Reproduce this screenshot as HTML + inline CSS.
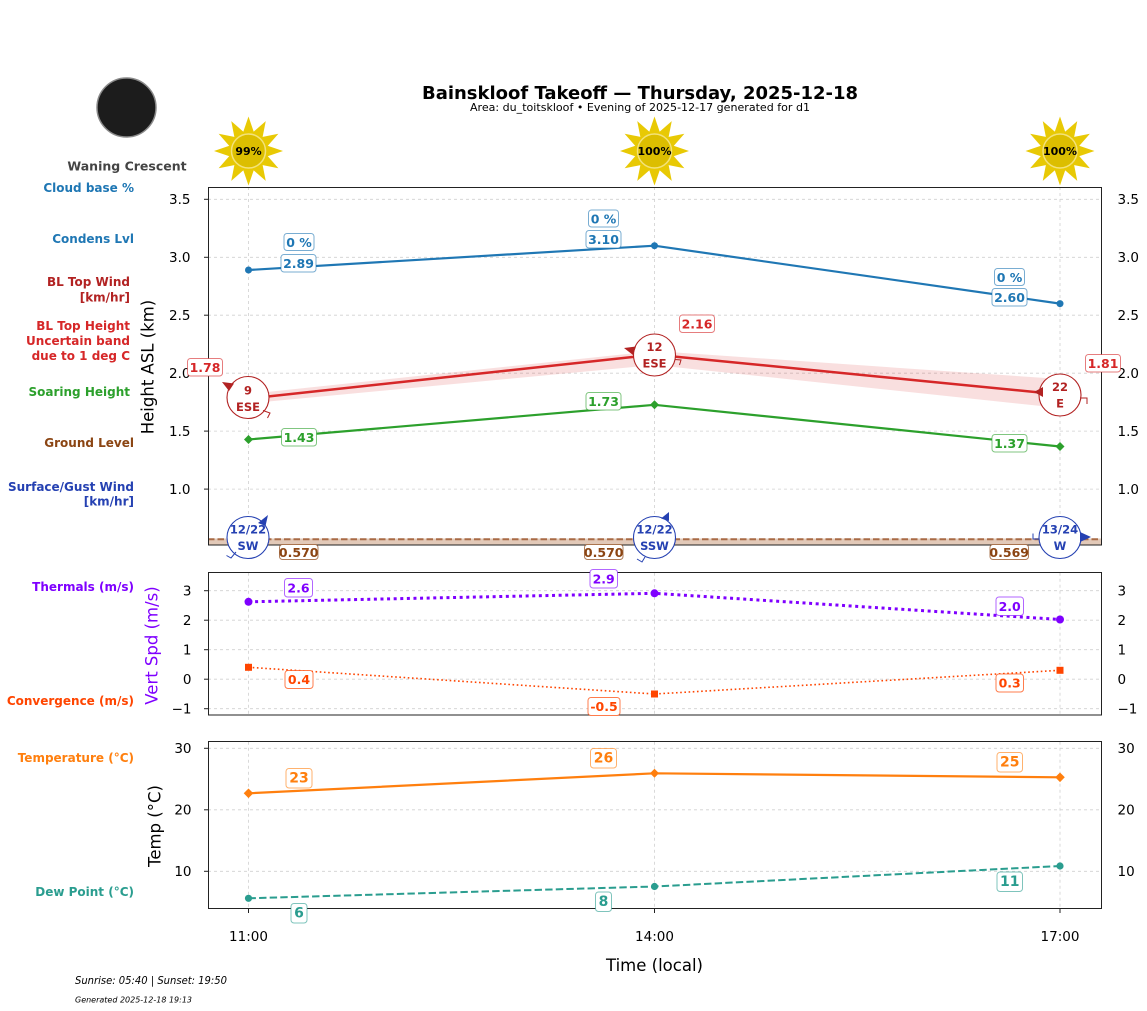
<!DOCTYPE html>
<html><head><meta charset="utf-8"><style>
html,body{margin:0;padding:0;background:#fff;}
svg{display:block;font-family:"DejaVu Sans","Liberation Sans",sans-serif;}
.lb{font-weight:bold;font-size:12px;text-anchor:end;dominant-baseline:central;}
.tk{font-size:13.5px;dominant-baseline:central;fill:#000;}
.bx{font-weight:bold;font-size:12.5px;text-anchor:middle;dominant-baseline:central;}
.g{stroke:#d0d0d0;stroke-width:0.8;stroke-dasharray:3,3;fill:none;}
</style></head><body>
<svg width="1147" height="1011" viewBox="0 0 1147 1011" xmlns="http://www.w3.org/2000/svg">
<rect width="1147" height="1011" fill="#fff"/>

<!-- Title -->
<text x="640" y="99" text-anchor="middle" font-weight="bold" font-size="18" textLength="436" lengthAdjust="spacingAndGlyphs">Bainskloof Takeoff — Thursday, 2025-12-18</text>
<text x="640" y="111" text-anchor="middle" font-size="11" textLength="340" lengthAdjust="spacingAndGlyphs">Area: du_toitskloof • Evening of 2025-12-17 generated for d1</text>

<!-- Moon -->
<circle cx="126.5" cy="107.5" r="29.5" fill="#1c1c1c" stroke="#8a8a8a" stroke-width="1.5"/>
<text x="127" y="166" text-anchor="middle" dominant-baseline="central" font-weight="bold" font-size="12.5" fill="#444">Waning Crescent</text>

<!-- Suns -->
<defs>
<g id="rays">
<polygon points="0,-34.5 -7,-14 7,-14" transform="rotate(0)"/>
<polygon points="0,-34.5 -7,-14 7,-14" transform="rotate(30)"/>
<polygon points="0,-34.5 -7,-14 7,-14" transform="rotate(60)"/>
<polygon points="0,-34.5 -7,-14 7,-14" transform="rotate(90)"/>
<polygon points="0,-34.5 -7,-14 7,-14" transform="rotate(120)"/>
<polygon points="0,-34.5 -7,-14 7,-14" transform="rotate(150)"/>
<polygon points="0,-34.5 -7,-14 7,-14" transform="rotate(180)"/>
<polygon points="0,-34.5 -7,-14 7,-14" transform="rotate(210)"/>
<polygon points="0,-34.5 -7,-14 7,-14" transform="rotate(240)"/>
<polygon points="0,-34.5 -7,-14 7,-14" transform="rotate(270)"/>
<polygon points="0,-34.5 -7,-14 7,-14" transform="rotate(300)"/>
<polygon points="0,-34.5 -7,-14 7,-14" transform="rotate(330)"/>
</g>
</defs>
<g transform="translate(248.5,151)" fill="#e8c904"><use href="#rays"/><circle r="17" fill="#dcbe00" stroke="#f3e27a" stroke-width="1.5"/></g>
<g transform="translate(654.5,151)" fill="#e8c904"><use href="#rays"/><circle r="17" fill="#dcbe00" stroke="#f3e27a" stroke-width="1.5"/></g>
<g transform="translate(1060,151)" fill="#e8c904"><use href="#rays"/><circle r="17" fill="#dcbe00" stroke="#f3e27a" stroke-width="1.5"/></g>
<text x="248.5" y="151.5" text-anchor="middle" dominant-baseline="central" font-weight="bold" font-size="11">99%</text>
<text x="654.5" y="151.5" text-anchor="middle" dominant-baseline="central" font-weight="bold" font-size="11">100%</text>
<text x="1060" y="151.5" text-anchor="middle" dominant-baseline="central" font-weight="bold" font-size="11">100%</text>

<!-- Left labels -->
<text class="lb" x="134" y="188" fill="#1f77b4">Cloud base %</text>
<text class="lb" x="134" y="239" fill="#1f77b4">Condens Lvl</text>
<text class="lb" x="130" y="282" fill="#b22222">BL Top Wind</text>
<text class="lb" x="130" y="297.5" fill="#b22222">[km/hr]</text>
<text class="lb" x="130" y="326" fill="#d62728">BL Top Height</text>
<text class="lb" x="130" y="341" fill="#d62728">Uncertain band</text>
<text class="lb" x="130" y="356" fill="#d62728">due to 1 deg C</text>
<text class="lb" x="130" y="392" fill="#2ca02c">Soaring Height</text>
<text class="lb" x="134" y="443" fill="#8b4513">Ground Level</text>
<text class="lb" x="134" y="487" fill="#2541b2">Surface/Gust Wind</text>
<text class="lb" x="134" y="501.5" fill="#2541b2">[km/hr]</text>
<text class="lb" x="134" y="587" fill="#7f00ff">Thermals (m/s)</text>
<text class="lb" x="134" y="701" fill="#ff4500">Convergence (m/s)</text>
<text class="lb" x="134" y="758" fill="#ff7f0e">Temperature (°C)</text>
<text class="lb" x="134" y="892" fill="#2a9d8f">Dew Point (°C)</text>

<!-- Y axis titles -->
<text transform="translate(148,367) rotate(-90)" text-anchor="middle" dominant-baseline="central" font-size="16.5">Height ASL (km)</text>
<text transform="translate(152,645.5) rotate(-90)" text-anchor="middle" dominant-baseline="central" font-size="16.5" fill="#7f00ff">Vert Spd (m/s)</text>
<text transform="translate(155,826) rotate(-90)" text-anchor="middle" dominant-baseline="central" font-size="16.5">Temp (°C)</text>

<!-- ===== MAIN PANEL ===== -->
<g class="g">
<line x1="208" x2="1101" y1="199.3" y2="199.3"/>
<line x1="208" x2="1101" y1="257.3" y2="257.3"/>
<line x1="208" x2="1101" y1="315.2" y2="315.2"/>
<line x1="208" x2="1101" y1="373.2" y2="373.2"/>
<line x1="208" x2="1101" y1="431.1" y2="431.1"/>
<line x1="208" x2="1101" y1="489.1" y2="489.1"/>
<line x1="248.5" x2="248.5" y1="187" y2="545"/>
<line x1="654.5" x2="654.5" y1="187" y2="545"/>
<line x1="1060" x2="1060" y1="187" y2="545"/>
</g>
<!-- ground band -->
<rect x="208" y="538.5" width="893" height="6.5" fill="#e2c9b8"/>
<line x1="208" x2="1101" y1="539.3" y2="539.3" stroke="#a86a45" stroke-width="2" stroke-dasharray="6.5,3"/>

<!-- red uncertainty band -->
<polygon points="248,394 654.5,351 1060,379 1060,408 654.5,365 248,403.5" fill="#d62728" fill-opacity="0.15"/>
<!-- lines -->
<polyline points="248.5,270 654.5,245.7 1060,303.6" fill="none" stroke="#1f77b4" stroke-width="2.2"/>
<circle cx="248.5" cy="270" r="3.5" fill="#1f77b4"/>
<circle cx="654.5" cy="245.7" r="3.5" fill="#1f77b4"/>
<circle cx="1060" cy="303.6" r="3.5" fill="#1f77b4"/>
<polyline points="248.5,398.6 654.5,354.6 1060,394.5" fill="none" stroke="#d62728" stroke-width="2.5"/>
<polyline points="248.5,439.5 654.5,404.8 1060,446.5" fill="none" stroke="#2ca02c" stroke-width="2.2"/>
<polygon points="248.5,435 253,439.5 248.5,444 244,439.5" fill="#2ca02c"/>
<polygon points="654.5,400.3 659,404.8 654.5,409.3 650,404.8" fill="#2ca02c"/>
<polygon points="1060,442 1064.5,446.5 1060,451 1055.5,446.5" fill="#2ca02c"/>

<!-- frame -->
<rect x="208.5" y="187.5" width="893" height="357.5" fill="none" stroke="#222" stroke-width="1"/>
<g stroke="#222" stroke-width="1">
<line x1="204" x2="208" y1="199.3" y2="199.3"/><line x1="204" x2="208" y1="257.3" y2="257.3"/>
<line x1="204" x2="208" y1="315.2" y2="315.2"/><line x1="204" x2="208" y1="373.2" y2="373.2"/>
<line x1="204" x2="208" y1="431.1" y2="431.1"/><line x1="204" x2="208" y1="489.1" y2="489.1"/>
</g>
<g class="tk">
<text x="190.5" y="200" text-anchor="end">3.5</text><text x="190.5" y="258" text-anchor="end">3.0</text>
<text x="190.5" y="316" text-anchor="end">2.5</text><text x="190.5" y="374" text-anchor="end">2.0</text>
<text x="190.5" y="432" text-anchor="end">1.5</text><text x="190.5" y="490" text-anchor="end">1.0</text>
</g>
<g class="tk">
<text x="1117.5" y="200">3.5</text><text x="1117.5" y="258">3.0</text>
<text x="1117.5" y="316">2.5</text><text x="1117.5" y="374">2.0</text>
<text x="1117.5" y="432">1.5</text><text x="1117.5" y="490">1.0</text>
</g>

<!-- red wind circles -->
<g fill="#fff" stroke="#b22222" stroke-width="1.1">
<circle cx="248" cy="397.5" r="21"/>
<circle cx="654.5" cy="355" r="21"/>
<circle cx="1060" cy="395" r="21"/>
</g>
<g fill="#b22222">
<polygon points="222,382 234,383.5 229,391"/>
<polygon points="624,348 636,346.5 633,355"/>
<polygon points="1034,392 1043,387 1043,397"/>
</g>
<g fill="none" stroke="#b22222" stroke-width="1">
<polyline points="263,410.5 270,413 267.5,418"/>
<polyline points="675,359.5 681,360 679.5,365"/>
<polyline points="1080,398 1087,398 1087,404"/>
</g>
<g font-weight="bold" font-size="11.5" fill="#b22222" text-anchor="middle" dominant-baseline="central">
<text x="248" y="390.5">9</text><text x="248" y="407">ESE</text>
<text x="654.5" y="347">12</text><text x="654.5" y="363.5">ESE</text>
<text x="1060" y="387">22</text><text x="1060" y="403.5">E</text>
</g>

<!-- blue surface wind circles -->
<g fill="#fff" stroke="#2541b2" stroke-width="1.1">
<circle cx="248" cy="537.5" r="21"/>
<circle cx="654.5" cy="537.5" r="21"/>
<circle cx="1060" cy="537.5" r="21"/>
</g>
<g fill="#2541b2">
<polygon points="258,523 268,515 265.5,526"/>
<polygon points="661,518.5 669,512 669,521"/>
<polygon points="1080,532 1091,537 1080,542"/>
</g>
<g fill="none" stroke="#2541b2" stroke-width="1">
<polyline points="226.5,555.5 231,558 236,552"/>
<polyline points="637,559 642,562 645,557"/>
<polyline points="1033,533.5 1033,539 1039,539"/>
</g>
<g font-weight="bold" font-size="11.5" fill="#2541b2" text-anchor="middle" dominant-baseline="central">
<text x="248" y="529.5">12/22</text><text x="248" y="546">SW</text>
<text x="654.5" y="529.5">12/22</text><text x="654.5" y="546">SSW</text>
<text x="1060" y="529.5">13/24</text><text x="1060" y="546">W</text>
</g>

<!-- main value boxes -->
<g fill="#fff" stroke-width="1">
<rect x="284" y="233.5" width="30" height="17" rx="3" stroke="#1f77b4" stroke-opacity="0.6"/>
<rect x="281" y="254.5" width="35" height="17.5" rx="3" stroke="#1f77b4" stroke-opacity="0.6"/>
<rect x="588.5" y="210" width="30" height="17" rx="3" stroke="#1f77b4" stroke-opacity="0.6"/>
<rect x="586" y="230.5" width="35" height="17.5" rx="3" stroke="#1f77b4" stroke-opacity="0.6"/>
<rect x="994.5" y="268.5" width="30" height="17" rx="3" stroke="#1f77b4" stroke-opacity="0.6"/>
<rect x="992" y="288.5" width="35" height="17.5" rx="3" stroke="#1f77b4" stroke-opacity="0.6"/>
<rect x="187.5" y="358.5" width="35" height="17.5" rx="3" stroke="#d62728" stroke-opacity="0.6"/>
<rect x="679.5" y="315" width="35" height="17.5" rx="3" stroke="#d62728" stroke-opacity="0.6"/>
<rect x="1085.5" y="354.5" width="35" height="17.5" rx="3" stroke="#d62728" stroke-opacity="0.6"/>
<rect x="281.5" y="428.5" width="35" height="17.5" rx="3" stroke="#2ca02c" stroke-opacity="0.6"/>
<rect x="586" y="392.5" width="35" height="17.5" rx="3" stroke="#2ca02c" stroke-opacity="0.6"/>
<rect x="992" y="434.5" width="35" height="17.5" rx="3" stroke="#2ca02c" stroke-opacity="0.6"/>
<rect x="279.5" y="544.5" width="38.5" height="15" rx="3" stroke="#8b4513" stroke-opacity="0.7"/>
<rect x="584.5" y="544.5" width="38.5" height="15" rx="3" stroke="#8b4513" stroke-opacity="0.7"/>
<rect x="990" y="544.5" width="38.5" height="15" rx="3" stroke="#8b4513" stroke-opacity="0.7"/>
</g>
<g>
<text class="bx" x="299" y="242.5" fill="#1f77b4">0 %</text>
<text class="bx" x="298.5" y="263.5" fill="#1f77b4">2.89</text>
<text class="bx" x="603.5" y="219" fill="#1f77b4">0 %</text>
<text class="bx" x="603.5" y="239.5" fill="#1f77b4">3.10</text>
<text class="bx" x="1009.5" y="277.5" fill="#1f77b4">0 %</text>
<text class="bx" x="1009.5" y="297.5" fill="#1f77b4">2.60</text>
<text class="bx" x="205" y="367.5" fill="#d62728">1.78</text>
<text class="bx" x="697" y="324" fill="#d62728">2.16</text>
<text class="bx" x="1103" y="363.5" fill="#d62728">1.81</text>
<text class="bx" x="299" y="437.5" fill="#2ca02c">1.43</text>
<text class="bx" x="603.5" y="401.5" fill="#2ca02c">1.73</text>
<text class="bx" x="1009.5" y="443.5" fill="#2ca02c">1.37</text>
<text class="bx" x="298.7" y="552.3" fill="#8b4513" font-size="10.5">0.570</text>
<text class="bx" x="603.7" y="552.3" fill="#8b4513" font-size="10.5">0.570</text>
<text class="bx" x="1009.2" y="552.3" fill="#8b4513" font-size="10.5">0.569</text>
</g>

<!-- ===== VERT PANEL ===== -->
<g class="g">
<line x1="208" x2="1101" y1="590.7" y2="590.7"/>
<line x1="208" x2="1101" y1="620.2" y2="620.2"/>
<line x1="208" x2="1101" y1="649.7" y2="649.7"/>
<line x1="208" x2="1101" y1="679.2" y2="679.2"/>
<line x1="208" x2="1101" y1="708.7" y2="708.7"/>
<line x1="248.5" x2="248.5" y1="572.7" y2="715"/>
<line x1="654.5" x2="654.5" y1="572.7" y2="715"/>
<line x1="1060" x2="1060" y1="572.7" y2="715"/>
</g>
<polyline points="248.5,601.8 654.5,593.3 1060,619.5" fill="none" stroke="#7f00ff" stroke-width="3" stroke-dasharray="3,3.6"/>
<circle cx="248.5" cy="601.8" r="4" fill="#7f00ff"/>
<circle cx="654.5" cy="593.3" r="4" fill="#7f00ff"/>
<circle cx="1060" cy="619.5" r="4" fill="#7f00ff"/>
<polyline points="248.5,667.3 654.5,694 1060,670.3" fill="none" stroke="#ff4500" stroke-width="1.6" stroke-dasharray="1.6,2.6"/>
<rect x="245" y="663.8" width="7" height="7" fill="#ff4500"/>
<rect x="651" y="690.5" width="7" height="7" fill="#ff4500"/>
<rect x="1056.5" y="666.8" width="7" height="7" fill="#ff4500"/>
<rect x="208.5" y="572.5" width="893" height="142.5" fill="none" stroke="#222" stroke-width="1"/>
<g stroke="#222" stroke-width="1">
<line x1="204" x2="208" y1="590.7" y2="590.7"/><line x1="204" x2="208" y1="620.2" y2="620.2"/>
<line x1="204" x2="208" y1="649.7" y2="649.7"/><line x1="204" x2="208" y1="679.2" y2="679.2"/>
<line x1="204" x2="208" y1="708.7" y2="708.7"/>
</g>
<g class="tk">
<text x="191.5" y="591.5" text-anchor="end">3</text><text x="191.5" y="621" text-anchor="end">2</text>
<text x="191.5" y="650.5" text-anchor="end">1</text><text x="191.5" y="680" text-anchor="end">0</text>
<text x="191.5" y="709.5" text-anchor="end">−1</text>
<text x="1117.5" y="591.5">3</text><text x="1117.5" y="621">2</text>
<text x="1117.5" y="650.5">1</text><text x="1117.5" y="680">0</text>
<text x="1117.5" y="709.5">−1</text>
</g>
<g fill="#fff" stroke-width="1">
<rect x="284.5" y="578.5" width="28" height="18.5" rx="3" stroke="#7f00ff" stroke-opacity="0.6"/>
<rect x="590" y="569.5" width="27.5" height="18.5" rx="3" stroke="#7f00ff" stroke-opacity="0.6"/>
<rect x="996" y="597" width="27.5" height="18.5" rx="3" stroke="#7f00ff" stroke-opacity="0.6"/>
<rect x="285" y="670.5" width="28" height="18" rx="3" stroke="#ff4500" stroke-opacity="0.7"/>
<rect x="588" y="697.5" width="32" height="18" rx="3" stroke="#ff4500" stroke-opacity="0.7"/>
<rect x="996" y="674" width="27.5" height="18" rx="3" stroke="#ff4500" stroke-opacity="0.7"/>
</g>
<text class="bx" x="298.5" y="588" fill="#7f00ff">2.6</text>
<text class="bx" x="603.7" y="579" fill="#7f00ff">2.9</text>
<text class="bx" x="1009.7" y="606.5" fill="#7f00ff">2.0</text>
<text class="bx" x="299" y="679.7" fill="#ff4500">0.4</text>
<text class="bx" x="604" y="706.7" fill="#ff4500">-0.5</text>
<text class="bx" x="1009.7" y="683.2" fill="#ff4500">0.3</text>

<!-- ===== TEMP PANEL ===== -->
<g class="g">
<line x1="208" x2="1101" y1="748.3" y2="748.3"/>
<line x1="208" x2="1101" y1="809.8" y2="809.8"/>
<line x1="208" x2="1101" y1="871.3" y2="871.3"/>
<line x1="248.5" x2="248.5" y1="741.7" y2="908.3"/>
<line x1="654.5" x2="654.5" y1="741.7" y2="908.3"/>
<line x1="1060" x2="1060" y1="741.7" y2="908.3"/>
</g>
<polyline points="248.5,793.3 654.5,773.3 1060,777.3" fill="none" stroke="#ff7f0e" stroke-width="2.2"/>
<polygon points="248.5,788.5 253.3,793.3 248.5,798.1 243.7,793.3" fill="#ff7f0e"/>
<polygon points="654.5,768.8 659,773.3 654.5,777.8 650,773.3" fill="#ff7f0e"/>
<polygon points="1060,772.5 1064.8,777.3 1060,782.1 1055.2,777.3" fill="#ff7f0e"/>
<polyline points="248.5,898.3 654.5,886.5 1060,866" fill="none" stroke="#2a9d8f" stroke-width="2" stroke-dasharray="7.4,3.2"/>
<circle cx="248.5" cy="898.3" r="3.6" fill="#2a9d8f"/>
<circle cx="654.5" cy="886.5" r="3.6" fill="#2a9d8f"/>
<circle cx="1060" cy="866" r="3.6" fill="#2a9d8f"/>
<rect x="208.5" y="741.5" width="893" height="167" fill="none" stroke="#222" stroke-width="1"/>
<g stroke="#222" stroke-width="1">
<line x1="204" x2="208" y1="748.3" y2="748.3"/><line x1="204" x2="208" y1="809.8" y2="809.8"/>
<line x1="204" x2="208" y1="871.3" y2="871.3"/>
<line x1="248.5" x2="248.5" y1="908.5" y2="913"/>
<line x1="654.5" x2="654.5" y1="908.5" y2="913"/>
<line x1="1060" x2="1060" y1="908.5" y2="913"/>
</g>
<g class="tk">
<text x="191.5" y="749" text-anchor="end">30</text><text x="191.5" y="810.5" text-anchor="end">20</text>
<text x="191.5" y="872" text-anchor="end">10</text>
<text x="1117.5" y="749">30</text><text x="1117.5" y="810.5">20</text>
<text x="1117.5" y="872">10</text>
<text x="248.5" y="937" text-anchor="middle">11:00</text>
<text x="654.5" y="937" text-anchor="middle">14:00</text>
<text x="1060" y="937" text-anchor="middle">17:00</text>
</g>
<g fill="#fff" stroke-width="1">
<rect x="286" y="768.5" width="26" height="19.5" rx="3" stroke="#ff7f0e" stroke-opacity="0.6"/>
<rect x="590.5" y="748.5" width="26" height="19.5" rx="3" stroke="#ff7f0e" stroke-opacity="0.6"/>
<rect x="997" y="752.5" width="25.5" height="19.5" rx="3" stroke="#ff7f0e" stroke-opacity="0.6"/>
<rect x="291" y="903.5" width="16" height="19.5" rx="3" stroke="#2a9d8f" stroke-opacity="0.6"/>
<rect x="595.5" y="892" width="16" height="19.5" rx="3" stroke="#2a9d8f" stroke-opacity="0.6"/>
<rect x="997" y="872" width="25.5" height="19.5" rx="3" stroke="#2a9d8f" stroke-opacity="0.6"/>
</g>
<g font-weight="bold" font-size="14" text-anchor="middle" dominant-baseline="central">
<text x="299" y="778.5" fill="#ff7f0e">23</text>
<text x="603.5" y="758.5" fill="#ff7f0e">26</text>
<text x="1009.7" y="762.5" fill="#ff7f0e">25</text>
<text x="299" y="913.5" fill="#2a9d8f">6</text>
<text x="603.5" y="902" fill="#2a9d8f">8</text>
<text x="1009.7" y="882" fill="#2a9d8f">11</text>
</g>

<text x="654.5" y="965.5" text-anchor="middle" dominant-baseline="central" font-size="16.5">Time (local)</text>

<text x="75" y="984" font-style="italic" font-size="10.5" textLength="152" lengthAdjust="spacingAndGlyphs">Sunrise: 05:40 | Sunset: 19:50</text>
<text x="75" y="1002.5" font-style="italic" font-size="8" textLength="117" lengthAdjust="spacingAndGlyphs">Generated 2025-12-18 19:13</text>
</svg>
</body></html>
